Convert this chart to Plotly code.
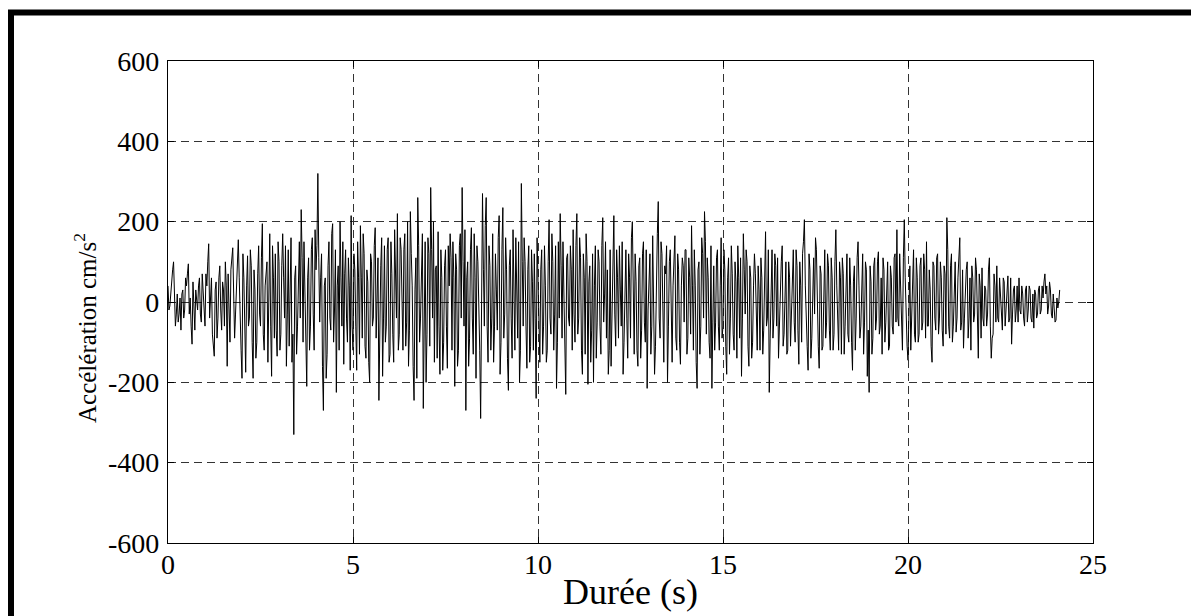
import plotly.graph_objects as go

dt = 0.05
# samples read at t = k*0.05 s
acc = [
    # 0 s
    40, -10, 60, 100, -60, 20, -30, -70, 30, -20, 40, 95, 10, -105, -40, 30, -20, 60, -50, 20,
    # 1 s
    -60, 40, 145, 20, -80, -135, 50, -40, 90, -70, 30, 100, -160, -30, 80, 135, -90, 40, 155, -60,
    # 2 s
    -190, 60, -175, 115, -40, 90, -190, 30, -100, 140, -60, 195, -120, 80, -150, 170, -185, 60, 120, -135,
    # 3 s
    100, -80, 170, -40, -160, 130, 20, -150, -330, 90, -60, 150, 230, -100, 40, -210, 110, -60, 160, -120,
    # 4 s
    80, 320, -50, 120, -270, 60, -130, 150, -70, 195, -20, -225, 90, 200, -60, -155, 130, -100, 40, 215,
    # 5 s
    -120, 80, -170, 60, 190, -90, 120, -140, 50, -200, 100, -40, 185, 20, -245, 90, -185, 140, -60, 160,
    # 6 s
    -130, 70, -150, 100, 220, -80, 130, -120, 170, -50, -160, 225, 40, -245, 110, 260, -100, 60, -265, 150,
    # 7 s
    -80, 120, 285, -40, -150, 90, 175, -180, 60, -100, 130, -165, 40, 110, 150, -210, 80, -120, 170, 285,
    # 8 s
    -60, -270, 100, -90, 185, -130, 60, 140, -80, -290, 270, -60, 260, -150, 90, -40, -150, 120, -70, 215,
    # 9 s
    -100, 235, -30, 80, -220, 130, -140, 60, 160, -90, -200, 295, -60, 100, -165, 140, -110, 50, 120, -240,
    # 10 s
    70, -150, 130, -60, 40, -120, 205, -80, 100, -30, -215, 150, 220, -90, 40, -230, 120, -60, 80, 180,
    # 11 s
    -100, 220, -40, 110, -180, 60, 170, -205, 90, -70, -200, 140, -50, 100, -130, 210, 20, -90, -180, 130,
    # 12 s
    -40, 215, -110, 60, 140, -60, -180, 90, -40, 120, -90, 200, -130, 50, -160, 110, -70, 150, -100, -215,
    # 13 s
    80, -130, 165, -180, 60, 250, -90, 120, -150, 70, -200, 100, -60, 40, 165, -120, 80, -155, 110, -50,
    # 14 s
    130, -90, 60, 190, -120, 40, -215, 100, -60, 120, 225, -80, 60, -140, -215, 90, -50, 130, -120, 160,
    # 15 s
    -60, 80, -180, 110, -40, 70, -120, 50, 140, -90, -185, 170, -30, 100, -160, 60, -100, 120, -50, 90,
    # 16 s
    -120, 60, -70, 175, -40, -225, 80, -90, 120, -60, -140, 50, 140, -80, 100, -120, 60, -40, 130, -100,
    # 17 s
    90, -155, 40, 120, 205, -60, -170, 80, -90, 110, 160, -40, -165, 70, -110, 130, -50, 90, -120, 60,
    # 18 s
    -80, 180, -30, 100, -130, 70, -60, 120, -100, 40, -170, 90, -40, 150, -90, 60, -130, 100, -185, -225,
    # 19 s
    50, -90, 110, -40, 125, -60, -130, 80, -50, 100, -110, 60, -80, 120, 180, -60, 40, -120, 205, -50,
    # 20 s
    -145, 90, -40, 130, -100, 60, -80, 110, -50, 80, 150, -60, 30, -150, 90, -70, 120, -40, 60, -110,
    # 21 s
    70, 210, -60, 90, -100, 40, -75, 60, 160, -50, -115, 30, 100, -40, -120, 60, -30, 80, -140, 40,
    # 22 s
    85, -60, 30, -30, 110, -140, -80, 40, 90, -50, 20, -70, 50, -20, 65, -40, -105, 30, -50, 40,
    # 23 s
    60, -30, 20, -60, 40, -20, 30, -50, -65, 20, -30, 40, -20, 10, 70, 40, -10, 30, -40, -20,
    # 24 s
    -45, -15, 30,
]
# samples read at t = k*0.05 + 0.025 s
acc_half = [
    # 0 s
    -20, 30, 80, 40, -30, -50, 10, 20, -40, 60, 70, -30, -60, 50, -70, 10, 40, -30, 70, -40,
    # 1 s
    70, 100, -40, 60, -110, 30, -90, 60, -20, 50, -60, 40, 70, -100, 110, 20, -30, 90, 60, -120,
    # 2 s
    120, -90, 40, -60, 130, -100, 80, -140, 70, -30, 110, -80, 40, 100, 30, -60, 140, -90, -70, 150,
    # 3 s
    -120, 90, 60, 140, -30, -110, 160, -80, 60, -130, 80, -40, 110, 150, -160, 60, -120, 130, -30, 180,
    # 4 s
    140, 110, 60, -160, 40, -190, 90, -40, 170, -100, 130, 40, -120, 60, 150, 70, -40, 110, -170, -60,
    # 5 s
    120, -60, 150, -130, 60, 170, -110, 80, -150, 120, -60, 140, -90, 110, -30, 160, -40, -100, 130, -150,
    # 6 s
    150, -80, 180, -40, -120, 160, -60, 130, -110, 200, -70, 120, -160, 30, -190, 140, -40, 170, 60, -200,
    # 7 s
    160, -110, 130, 200, 80, -140, -60, 130, -170, 90, -60, 140, 170, -120, 60, 120, -160, 140, -40, 100,
    # 8 s
    180, 60, -160, 130, -40, 170, -190, 100, -120, 160, 80, 190, -60, 140, -120, 170, -60, 30, 160, -180,
    # 9 s
    130, -90, 160, -140, 90, -40, 180, -120, 60, 150, -120, 100, 160, -60, 80, -150, 130, -120, -40, 160,
    # 10 s
    -90, 80, -130, 140, -150, 100, -40, 170, -120, 140, -100, -40, 90, 150, -140, 110, -40, 140, -120, -30,
    # 11 s
    140, -80, 160, -120, 120, -130, 100, 50, -150, 120, 40, -140, 130, -60, 140, -50, 150, 80, -120, -160,
    # 12 s
    160, -30, 130, -90, 30, 150, -100, 130, -140, 60, 160, -60, 120, -120, 90, -140, 120, -50, 130, -20,
    # 13 s
    120, -60, 40, -110, 170, -40, 150, -100, 90, 140, -60, 130, -150, 110, -90, 120, -100, 40, 90, 130,
    # 14 s
    -130, 110, -80, 40, 130, -150, 80, -130, 160, -40, 150, 110, -100, 140, -50, -120, 110, -60, 40, -90,
    # 15 s
    130, -110, 60, -130, 140, -80, 100, -140, 60, 110, -40, 80, 130, -110, 90, -140, 40, 70, -120, 30,
    # 16 s
    110, -130, 60, -60, 130, -90, 130, -40, 90, 110, -60, 100, -110, 60, -130, 100, -110, 80, -50, 130,
    # 17 s
    -70, 100, -100, 150, 40, -110, 120, -140, 60, -30, 130, -110, 90, -120, 80, -90, 120, -70, 110, -120,
    # 18 s
    100, 40, -120, 60, 110, -130, 80, -80, 110, -100, 50, -120, 110, 40, -60, 120, -50, 80, -70, 90,
    # 19 s
    -130, 90, -70, 100, -80, 60, 110, -100, 70, -120, 90, -60, 110, -50, -40, 120, -90, 110, 60, -110,
    # 20 s
    40, -120, 100, -80, 110, -100, 90, -70, 120, -90, -60, 80, -110, 100, -40, 110, -80, 100, -70, 90,
    # 21 s
    -80, 130, -90, 120, -60, 100, -40, 120, -70, 80, -40, 80, -90, 60, 90, -50, 110, -80, 70, -90,
    # 22 s
    -40, 40, -60, 80, -60, -90, 70, -50, -40, 60, -50, 60, -60, 40, -50, 60, -30, 40, -20, -50,
    # 23 s
    -20, 40, -40, 30, -50, 40, -40, 20, 30, -40, 30, -30, 40, 50, 20, -30, 50, -30, 20, -50,
    # 24 s
    10, 0,
]

pairs = [(round(k * dt, 3), v) for k, v in enumerate(acc)]
pairs += [(round(k * dt + dt / 2, 3), v) for k, v in enumerate(acc_half)]
pairs.sort()
time = [p[0] for p in pairs]
values = [p[1] for p in pairs]

x_ticks = [0, 5, 10, 15, 20, 25]
y_ticks = [-600, -400, -200, 0, 200, 400, 600]

fig = go.Figure()
fig.add_trace(go.Scatter(x=time, y=values, mode="lines",
                         line=dict(color="black", width=1), showlegend=False))

font_family = "Liberation Serif"
axis_common = dict(
    showline=True, linecolor="black", linewidth=1.3, mirror="ticks",
    ticks="inside", ticklen=6, tickcolor="black",
    showgrid=True, gridcolor="#333333", griddash="8px,5px", gridwidth=1,
    zeroline=False,
    tickfont=dict(family=font_family, size=28, color="black"),
)

# page body has an 8px margin, so the figure is laid out relative to that offset
fig.update_layout(
    width=1199, height=616,
    margin=dict(l=160, r=114, t=53, b=81),
    paper_bgcolor="white", plot_bgcolor="white",
    font=dict(family=font_family, color="black"),
    xaxis=dict(range=[0, 25], tickvals=x_ticks, ticktext=[str(v) for v in x_ticks],
               title=dict(text="Durée (s)", font=dict(family=font_family, size=36, color="black"),
                          standoff=0),
               ticklabelstandoff=-4,
               **axis_common),
    yaxis=dict(range=[-600, 600], tickvals=y_ticks, ticktext=[str(v) for v in y_ticks],
               ticklabelstandoff=2,
               **axis_common),
    annotations=[dict(text="Accélération cm/s<sup>2</sup>", textangle=-90,
                      xref="paper", yref="paper",
                      x=(85 - 168) / 925, y=(543 - 328) / 482,
                      xanchor="center", yanchor="middle", showarrow=False,
                      font=dict(family=font_family, size=25, color="black"))],
    shapes=[dict(type="rect", xref="paper", yref="paper",
                 x0=(11 - 168) / 925, x1=(1195 - 168) / 925,
                 y0=(543 - 640) / 482, y1=(543 - 12.5) / 482,
                 line=dict(color="black", width=6), fillcolor="rgba(0,0,0,0)", layer="above")],
)

fig.write_html("out.html")
